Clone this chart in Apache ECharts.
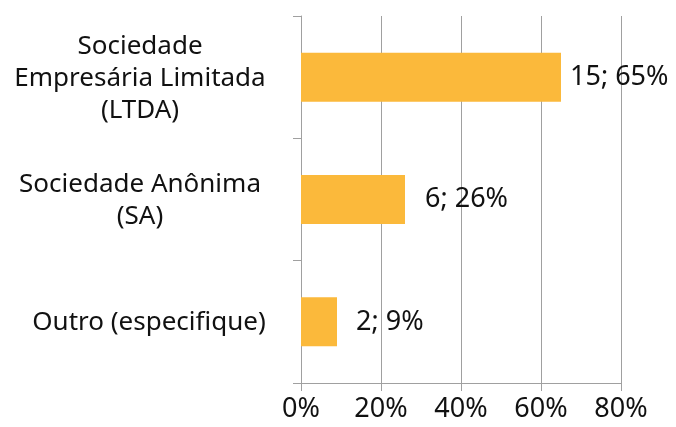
<!DOCTYPE html>
<html><head><meta charset="utf-8">
<script src="https://cdn.jsdelivr.net/npm/echarts@6/dist/echarts.min.js"></script>
<style>html,body{margin:0;padding:0;background:#fff}#c{width:676px;height:427px}</style>
</head><body><div id="c"></div>
<script>
var categories = ['Outro (especifique)', 'Sociedade Anônima\n(SA)', 'Sociedade\nEmpresária Limitada\n(LTDA)'];
var counts = [2, 6, 15];
var percents = [9, 26, 65];
var xTicks = [0, 20, 40, 60, 80];

var FONT = '"Noto Sans", sans-serif';
var chart = echarts.init(document.getElementById('c'));
var labelDist = [19, 20, 9];
chart.setOption({
  animation: false,
  grid: {left: 301, right: 55, top: 16, bottom: 44},
  xAxis: {
    type: 'value', min: xTicks[0], max: xTicks[xTicks.length - 1], interval: 20,
    axisLine: {show: true, lineStyle: {color: '#a0a0a0', width: 1}},
    axisTick: {show: true, length: 8, lineStyle: {color: '#a0a0a0'}},
    splitLine: {show: true, lineStyle: {color: '#a0a0a0', width: 1}},
    axisLabel: {formatter: '{value}%', color: '#111', fontSize: 27, fontFamily: FONT, margin: 13}
  },
  yAxis: {
    type: 'category', data: categories,
    axisLine: {show: true, lineStyle: {color: '#a0a0a0', width: 1}},
    axisTick: {show: true, length: 8, lineStyle: {color: '#a0a0a0'}},
    axisLabel: {
      color: '#111', fontSize: 26, fontFamily: FONT, lineHeight: 32, align: 'center', margin: 161,
      formatter: function (v, i) { return i === 0 ? '{o|' + v + '}' : '{n|' + v.split('\n').join('}\n{n|') + '}'; },
      rich: {
        o: {fontSize: 26, fontFamily: FONT, color: '#111', lineHeight: 32, padding: [2, 0, 0, 18]},
        n: {fontSize: 26, fontFamily: FONT, color: '#111', lineHeight: 32, padding: [2, 0, 0, 0]}
      }
    }
  },
  series: [{
    type: 'bar', barWidth: '40%',
    itemStyle: {color: '#FBB93B'},
    data: percents.map(function (p, i) {
      return {value: p, label: {distance: labelDist[i]}};
    }),
    label: {
      show: true, position: 'right', color: '#111', fontSize: 27, fontFamily: FONT,
      formatter: function (p) { return counts[p.dataIndex] + '; ' + percents[p.dataIndex] + '%'; }
    }
  }]
});
</script></body></html>
